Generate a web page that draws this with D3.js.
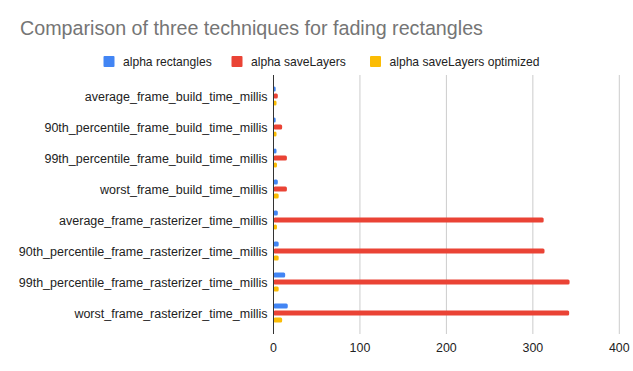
<!DOCTYPE html>
<html>
<head>
<meta charset="utf-8">
<script src="https://cdn.jsdelivr.net/npm/d3@7"></script>
<style>
  body { margin: 0; background: #fff; }
  svg { display: block; font-family: "Liberation Sans", Arial, sans-serif; }
</style>
</head>
<body>
<div id="chart"></div>
<script>
var categories = [
    "average_frame_build_time_millis",
    "90th_percentile_frame_build_time_millis",
    "99th_percentile_frame_build_time_millis",
    "worst_frame_build_time_millis",
    "average_frame_rasterizer_time_millis",
    "90th_percentile_frame_rasterizer_time_millis",
    "99th_percentile_frame_rasterizer_time_millis",
    "worst_frame_rasterizer_time_millis"
];
var seriesNames = ["alpha rectangles", "alpha saveLayers", "alpha saveLayers optimized"];
var alphaRectangles = [2.5, 2.5, 3.5, 5, 5, 6, 13.5, 16.5];
var alphaSaveLayers = [5, 10, 15.5, 15.5, 312.5, 313.5, 342.5, 342];
var alphaSaveLayersOptimized = [3.5, 3.5, 4, 6, 4, 6, 6, 10];
var xTicks = [0, 100, 200, 300, 400];
var colors = ["#4285f4", "#ea4335", "#fbbc04"];

var width = 633;
var height = 371;
var margin = ({ top: 80, right: 14, bottom: 42, left: 273.5 });

var svg = d3.select("#chart")
    .append("svg")
    .attr("width", width)
    .attr("height", height);

svg.append("text")
    .attr("x", 20)
    .attr("y", 35)
    .attr("fill", "#757575")
    .attr("font-size", 19.7)
    .text("Comparison of three techniques for fading rectangles");

// legend
var legendX = [103.5, 231.5, 370];
var legend = svg.append("g")
    .selectAll("g")
    .data(seriesNames)
    .enter().append("g")
        .attr("transform", (d, i) => `translate(${legendX[i]}, 56)`);
legend.append("rect")
    .attr("width", 11)
    .attr("height", 11)
    .attr("rx", 1)
    .attr("fill", (d, i) => colors[i]);
legend.append("text")
    .attr("x", 19.5)
    .attr("y", 10)
    .attr("font-size", 12.1)
    .attr("fill", "#222")
    .text(d => d);

var x = d3.scaleLinear()
    .domain([0, 400])
    .range([margin.left, 619.3]);

var y = d3.scaleBand()
    .domain(categories)
    .range([margin.top + 0.5, height - margin.bottom - 0.5]);

// gridlines
svg.append("g")
    .selectAll("line")
    .data(xTicks.slice(1))
    .enter().append("line")
        .attr("x1", d => x(d))
        .attr("x2", d => x(d))
        .attr("y1", 75)
        .attr("y2", 334)
        .attr("stroke", "#cccccc")
        .attr("stroke-width", 1);

// tick labels
svg.append("g")
    .selectAll("text")
    .data(xTicks)
    .enter().append("text")
        .attr("x", d => x(d))
        .attr("y", 352)
        .attr("text-anchor", "middle")
        .attr("font-size", 12.4)
        .attr("fill", "#222")
        .text(d => d);

// category labels
svg.append("g")
    .selectAll("text")
    .data(categories)
    .enter().append("text")
        .attr("x", 267.5)
        .attr("y", d => y(d) + y.bandwidth() / 2 + 4.5)
        .attr("text-anchor", "end")
        .attr("font-size", 12.5)
        .attr("fill", "#222")
        .text(d => d);

var series = [alphaRectangles, alphaSaveLayers, alphaSaveLayersOptimized];
var offsets = [-7, 0, 7];
var barH = 5;

series.forEach(function(values, s) {
    svg.append("g")
        .attr("fill", colors[s])
        .selectAll("rect")
        .data(values)
        .enter().append("rect")
            .attr("x", x(0))
            .attr("y", (d, i) => y(categories[i]) + y.bandwidth() / 2 + offsets[s] - barH / 2)
            .attr("width", d => x(d) - x(0))
            .attr("height", barH)
            .attr("rx", 1.5);
});

// zero axis line
svg.append("line")
    .attr("x1", x(0))
    .attr("x2", x(0))
    .attr("y1", 75)
    .attr("y2", 334)
    .attr("stroke", "#333")
    .attr("stroke-width", 1);
</script>
</body>
</html>
